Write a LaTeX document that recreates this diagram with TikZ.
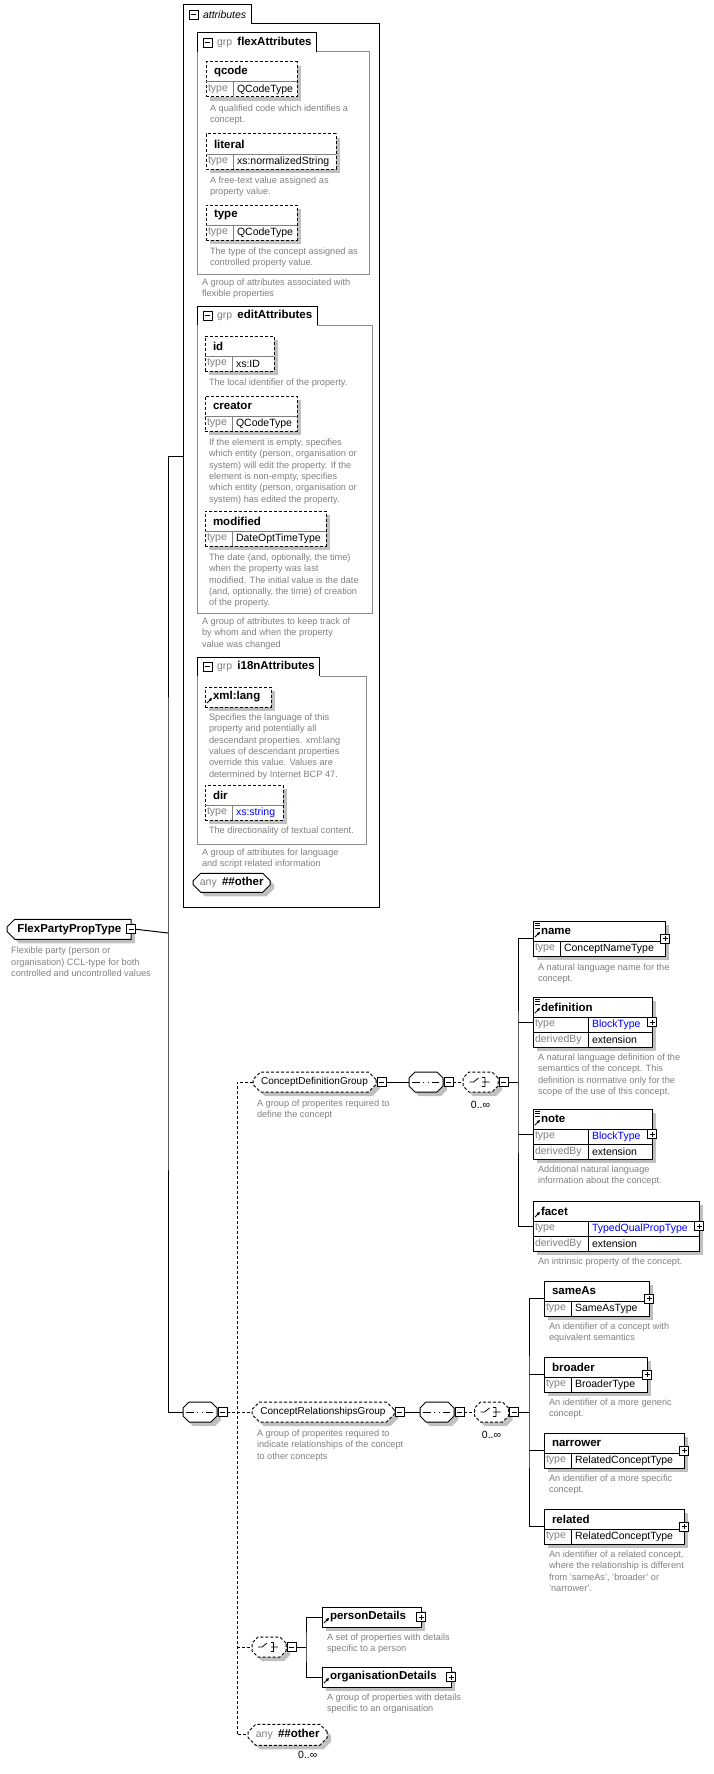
\documentclass[tikz,border=0pt]{standalone}
\usepackage{fontspec}
\setmainfont{Liberation Sans}
\usetikzlibrary{shapes.misc,arrows.meta,positioning,shadows}
\definecolor{desccol}{RGB}{128,128,128}
\definecolor{labcol}{RGB}{128,128,128}
\definecolor{shadecol}{RGB}{192,192,192}
\definecolor{grpcol}{RGB}{140,140,140}
\definecolor{linkblue}{RGB}{0,0,255}

\begin{document}
\begin{tikzpicture}[
  x=1pt, y=-1pt, line width=1pt,
  every node/.style={inner sep=0pt, outer sep=0pt, font=\fontsize{10.5}{12}\selectfont},
  opt/.style={dash pattern=on 3pt off 2pt},
  shadowed/.style={drop shadow={shadow xshift=4pt, shadow yshift=-4pt, opacity=1, fill=shadecol}},
  attframe/.style={anchor=north west, draw, opt, fill=white, shadowed},
  elframe/.style={anchor=north west, draw, fill=white, shadowed},
  ename/.style={anchor=north west, minimum height=20pt, inner xsep=8pt, font=\fontsize{11.5}{13}\selectfont\bfseries},
  tlab/.style={anchor=north west, minimum height=15pt, inner xsep=2pt, text width=#1, align=left, text=labcol},
  tlab/.default=23pt,
  tval/.style={anchor=north west, minimum height=15pt, inner xsep=4pt, text width=#1, align=left},
  attline/.style={draw=black!50},
  elline/.style={draw=black},
  desc/.style={align=left, text=desccol, font=\fontsize{9.2}{11.3}\selectfont},
  tabnode/.style={anchor=north west, minimum height=19pt, inner xsep=5pt},
  grpline/.style={draw=grpcol},
  mult/.style={font=\fontsize{10.5}{12}\selectfont},
  refmark/.style={line width=1pt, -{Triangle[length=3pt,width=3pt]}},
  mixmark/.style={line width=0.8pt},
  minusbox/.style={draw, fill=white, line width=0.8pt, minimum size=9pt,
    path picture={\draw[line width=0.8pt] ([xshift=2pt]path picture bounding box.west) -- ([xshift=-2pt]path picture bounding box.east);}},
  plusbox/.style={draw, fill=white, line width=0.8pt, minimum size=9pt,
    path picture={\draw[line width=0.8pt] ([xshift=2pt]path picture bounding box.west) -- ([xshift=-2pt]path picture bounding box.east)
      ([yshift=2pt]path picture bounding box.south) -- ([yshift=-2pt]path picture bounding box.north);}},
  chamf/.style={chamfered rectangle, chamfered rectangle xsep=4pt, draw, fill=white, shadowed},
  compo/.style={chamf, chamfered rectangle sep=3pt, inner xsep=14pt, inner ysep=7pt, minimum width=34pt, minimum height=20pt},
  seqnode/.style={compo, path picture={
    \draw[line width=0.8pt] ([xshift=3pt]path picture bounding box.west) -- ([xshift=-4pt]path picture bounding box.east);
    \foreach \k in {-4.5,0,4.5} \fill ([xshift=\k pt]path picture bounding box.center) +(-1.6pt,-1.6pt) rectangle +(1.6pt,1.6pt);}},
  chonode/.style={compo, opt, path picture={
    \coordinate (cc) at (path picture bounding box.center);
    \draw[line width=0.8pt, solid] ([xshift=-11pt]cc) -- ([xshift=-7pt]cc) -- ([shift={(-2pt,4pt)}]cc)
      ([shift={(4.5pt,4.5pt)}]cc) -- ([shift={(4.5pt,-4.5pt)}]cc)
      ([shift={(1pt,4.5pt)}]cc) -- ([shift={(4.5pt,4.5pt)}]cc)
      ([shift={(1pt,-4.5pt)}]cc) -- ([shift={(4.5pt,-4.5pt)}]cc)
      ([xshift=1pt]cc) -- ([xshift=9pt]cc);
    \foreach \k in {-4.5,0,4.5} \fill ([yshift=\k pt]cc) +(-1.6pt,-1.6pt) rectangle +(1.6pt,1.6pt);}},
  grpref/.style={chamf, opt, minimum height=20pt, font=\fontsize{10}{12}\selectfont},
  anynode/.style={chamf, anchor=north west},
]
\useasboundingbox (0,0) rectangle (714,1774);

% attributes box
\node[tabnode] (attrTab) at (183,5) {\hspace*{15pt}\textit{attributes}};
\node[minusbox, right=6pt of attrTab.west] (attrTabX) {};
\coordinate (attrSE) at (379,907);
\coordinate (attrIn) at (183,456);
\draw (attrTab.south west) |- (attrTab.north east) -- (attrTab.south east) -| (attrSE) -| (attrTab.south west);

% group flexAttributes
\node[tabnode] (flexTab) at (197,33) {\hspace*{15pt}{\color{labcol}grp}\enspace{\fontsize{11.5}{13}\selectfont\bfseries flexAttributes}};
\node[minusbox, right=6pt of flexTab.west] (flexTabX) {};
\coordinate (flexSE) at (369,274);
\coordinate (flexSW) at (197,274);
\draw (flexTab.south west) |- (flexTab.north east) -- (flexTab.south east);
\draw[grpline] (flexTab.south east) -| (flexSE) -- (flexSW) -- (flexTab.south west);
\node[desc, below right=5pt and 5pt of flexSW] (flexD) {A group of attributes associated with\\flexible properties};

\node[attframe, minimum width=91pt, minimum height=35pt] (qcode) at (206,62) {};
\node[ename] (qcodeN) at (qcode.north west) {qcode};
\node[tlab] (qcodeT) at (qcodeN.south west) {type};
\node[tval=56pt] (qcodeV) at (qcodeT.north east) {QCodeType};
\draw[attline] (qcodeT.north west) -- (qcode.east |- qcodeT.north) (qcodeT.north east) -- (qcodeT.south east);
\node[desc, below right=8pt and 4pt of qcode.south west] (qcodeD) {A qualified code which identifies a\\concept.};

\node[attframe, minimum width=130pt, minimum height=35pt] (literal) at (206,134) {};
\node[ename] (literalN) at (literal.north west) {literal};
\node[tlab] (literalT) at (literalN.south west) {type};
\node[tval=95pt] (literalV) at (literalT.north east) {xs:normalizedString};
\draw[attline] (literalT.north west) -- (literal.east |- literalT.north) (literalT.north east) -- (literalT.south east);
\node[desc, below right=8pt and 4pt of literal.south west] (literalD) {A free-text value assigned as\\property value.};

\node[attframe, minimum width=91pt, minimum height=35pt] (typeAtt) at (206,205) {};
\node[ename] (typeAttN) at (typeAtt.north west) {type};
\node[tlab] (typeAttT) at (typeAttN.south west) {type};
\node[tval=56pt] (typeAttV) at (typeAttT.north east) {QCodeType};
\draw[attline] (typeAttT.north west) -- (typeAtt.east |- typeAttT.north) (typeAttT.north east) -- (typeAttT.south east);
\node[desc, below right=8pt and 4pt of typeAtt.south west] (typeAttD) {The type of the concept assigned as\\controlled property value.};

% group editAttributes
\node[tabnode] (editTab) at (197,306) {\hspace*{15pt}{\color{labcol}grp}\enspace{\fontsize{11.5}{13}\selectfont\bfseries editAttributes}};
\node[minusbox, right=6pt of editTab.west] (editTabX) {};
\coordinate (editSE) at (372,613);
\coordinate (editSW) at (197,613);
\draw (editTab.south west) |- (editTab.north east) -- (editTab.south east);
\draw[grpline] (editTab.south east) -| (editSE) -- (editSW) -- (editTab.south west);
\node[desc, below right=5pt and 5pt of editSW] (editD) {A group of attributes to keep track of\\by whom and when the property\\value was changed};

\node[attframe, minimum width=69pt, minimum height=35pt] (idAtt) at (205,336) {};
\node[ename] (idAttN) at (idAtt.north west) {id};
\node[tlab] (idAttT) at (idAttN.south west) {type};
\node[tval=34pt] (idAttV) at (idAttT.north east) {xs:ID};
\draw[attline] (idAttT.north west) -- (idAtt.east |- idAttT.north) (idAttT.north east) -- (idAttT.south east);
\node[desc, below right=8pt and 4pt of idAtt.south west] (idAttD) {The local identifier of the property.};

\node[attframe, minimum width=92pt, minimum height=35pt] (creator) at (205,396) {};
\node[ename] (creatorN) at (creator.north west) {creator};
\node[tlab] (creatorT) at (creatorN.south west) {type};
\node[tval=57pt] (creatorV) at (creatorT.north east) {QCodeType};
\draw[attline] (creatorT.north west) -- (creator.east |- creatorT.north) (creatorT.north east) -- (creatorT.south east);
\node[desc, below right=8pt and 4pt of creator.south west] (creatorD) {If the element is empty, specifies\\which entity (person, organisation or\\system) will edit the property. If the\\element is non-empty, specifies\\which entity (person, organisation or\\system) has edited the property.};

\node[attframe, minimum width=121pt, minimum height=35pt] (modified) at (205,511) {};
\node[ename] (modifiedN) at (modified.north west) {modified};
\node[tlab] (modifiedT) at (modifiedN.south west) {type};
\node[tval=86pt] (modifiedV) at (modifiedT.north east) {DateOptTimeType};
\draw[attline] (modifiedT.north west) -- (modified.east |- modifiedT.north) (modifiedT.north east) -- (modifiedT.south east);
\node[desc, below right=8pt and 4pt of modified.south west] (modifiedD) {The date (and, optionally, the time)\\when the property was last\\modified. The initial value is the date\\(and, optionally, the time) of creation\\of the property.};

% group i18nAttributes
\node[tabnode] (i18nTab) at (197,657) {\hspace*{15pt}{\color{labcol}grp}\enspace{\fontsize{11.5}{13}\selectfont\bfseries i18nAttributes}};
\node[minusbox, right=6pt of i18nTab.west] (i18nTabX) {};
\coordinate (i18nSE) at (366,844);
\coordinate (i18nSW) at (197,844);
\draw (i18nTab.south west) |- (i18nTab.north east) -- (i18nTab.south east);
\draw[grpline] (i18nTab.south east) -| (i18nSE) -- (i18nSW) -- (i18nTab.south west);
\node[desc, below right=5pt and 5pt of i18nSW] (i18nD) {A group of attributes for language\\and script related information};

\node[attframe, minimum width=66pt, minimum height=20pt] (xmllang) at (205,687) {};
\node[ename] (xmllangN) at (xmllang.north west) {xml:lang};
\draw[refmark] ([shift={(2,16)}]xmllang.north west) -- +(5,-5);
\node[desc, below right=7pt and 4pt of xmllang.south west] (xmllangD) {Specifies the language of this\\property and potentially all\\descendant properties. xml:lang\\values of descendant properties\\override this value. Values are\\determined by Internet BCP 47.};

\node[attframe, minimum width=78pt, minimum height=35pt] (dirAtt) at (205,785) {};
\node[ename] (dirAttN) at (dirAtt.north west) {dir};
\node[tlab] (dirAttT) at (dirAttN.south west) {type};
\node[tval=43pt, text=linkblue] (dirAttV) at (dirAttT.north east) {xs:string};
\draw[attline] (dirAttT.north west) -- (dirAtt.east |- dirAttT.north) (dirAttT.north east) -- (dirAttT.south east);
\node[desc, below right=7pt and 4pt of dirAtt.south west] (dirAttD) {The directionality of textual content.};

\node[anynode, minimum width=77pt, minimum height=19pt] (anyAttr) at (197,877) {{\color{labcol}any}\enspace{\fontsize{11.5}{13}\selectfont\bfseries\#\#other}};

% the complex type
\node[chamf, chamfered rectangle corners={north west,south west}, anchor=north west, minimum width=124pt, minimum height=20pt, font=\fontsize{11.5}{13}\selectfont\bfseries] (flexType) at (11,923) {FlexPartyPropType};
\node[minusbox] (flexTypeX) at (flexType.east) {};
\coordinate (flexTypeSW) at (flexType.west |- flexType.south);
\node[desc, below right=8pt and 4pt of flexTypeSW] (flexTypeD) {Flexible party (person or\\organisation) CCL-type for both\\controlled and uncontrolled values};

\coordinate (trunk) at (168,933);
\draw (flexTypeX.east) -- (trunk);
\node[seqnode] (seqMain) at (200,1412) {};
\node[minusbox, right=1pt of seqMain] (seqMainX) {};
\draw (attrIn) -| (trunk) |- (seqMain.west);

% main sequence children
\node[grpref, minimum width=123pt, anchor=west] (cdg) at (253,1082) {ConceptDefinitionGroup};
\node[grpref, minimum width=142pt, anchor=west] (crg) at (252,1412) {ConceptRelationshipsGroup};
\node[chonode, minimum width=32pt] (choPO) at (269,1647) {};
\node[chamf, opt, anchor=north west, minimum width=79pt, minimum height=21pt] (anyEl) at (252,1728) {{\color{labcol}any}\enspace{\fontsize{11.5}{13}\selectfont\bfseries\#\#other}};
\node[mult, below=6pt of anyEl, xshift=20pt] (anyElM) {0..∞};

\coordinate (mainbus) at (237,1412);
\draw[opt] (seqMainX.east) -- (crg.west);
\draw[opt] (cdg.west) -| (mainbus) |- (anyEl.west);
\draw[opt] (mainbus |- choPO.west) -- (choPO.west);

% ConceptDefinitionGroup
\coordinate (cdgSW) at (cdg.west |- cdg.south);
\node[desc, below right=8pt and 4pt of cdgSW] (cdgD) {A group of properites required to\\define the concept};
\node[minusbox, right=1pt of cdg] (cdgX) {};
\node[seqnode] (seqDef) at (426,1082) {};
\node[minusbox, right=1pt of seqDef] (seqDefX) {};
\node[chonode, minimum width=35pt] (choDef) at (480.5,1082) {};
\node[minusbox, right=1pt of choDef] (choDefX) {};
\node[mult, below=9pt of choDef] (choDefM) {0..∞};
\draw (cdgX.east) -- (seqDef.west);
\draw[opt] (seqDefX.east) -- (choDef.west);
\coordinate (defbus) at (518,1082);
\draw (choDefX.east) -- (defbus);

\node[elframe, minimum width=132pt, minimum height=35pt] (nameEl) at (533,921) {};
\node[ename] (nameElN) at (nameEl.north west) {name};
\node[tlab] (nameElT) at (nameElN.south west) {type};
\node[tval=97pt] (nameElV) at (nameElT.north east) {ConceptNameType};
\draw[elline] (nameElT.north west) -- (nameEl.east |- nameElT.north) (nameElT.north east) -- (nameElT.south east);
\draw[mixmark] ([shift={(2,2)}]nameEl.north west) -- +(5,0) +(0,2.5) -- +(5,2.5) +(0,5) -- +(5,5);
\draw[refmark] ([shift={(2,16)}]nameEl.north west) -- +(5,-5);
\node[plusbox] (nameElX) at (nameEl.east) {};
\node[desc, below right=8pt and 5pt of nameEl.south west] (nameElD) {A natural language name for the\\concept.};

\node[elframe, minimum width=119pt, minimum height=50pt] (definition) at (533,997) {};
\node[ename] (definitionN) at (definition.north west) {definition};
\node[tlab=51pt] (definitionT) at (definitionN.south west) {type};
\node[tval=56pt, text=linkblue] (definitionV) at (definitionT.north east) {BlockType};
\node[tlab=51pt] (definitionB) at (definitionT.south west) {derivedBy};
\node[tval=56pt] (definitionE) at (definitionB.north east) {extension};
\draw[elline] (definitionT.north west) -- (definition.east |- definitionT.north)
  (definitionB.north west) -- (definition.east |- definitionB.north)
  (definitionT.north east) -- (definitionB.south east);
\draw[mixmark] ([shift={(2,2)}]definition.north west) -- +(5,0) +(0,2.5) -- +(5,2.5) +(0,5) -- +(5,5);
\draw[refmark] ([shift={(2,16)}]definition.north west) -- +(5,-5);
\node[plusbox] (definitionX) at (definition.east) {};
\node[desc, below right=7pt and 5pt of definition.south west] (definitionD) {A natural language definition of the\\semantics of the concept. This\\definition is normative only for the\\scope of the use of this concept.};

\node[elframe, minimum width=119pt, minimum height=50pt] (note) at (533,1109) {};
\node[ename] (noteN) at (note.north west) {note};
\node[tlab=51pt] (noteT) at (noteN.south west) {type};
\node[tval=56pt, text=linkblue] (noteV) at (noteT.north east) {BlockType};
\node[tlab=51pt] (noteB) at (noteT.south west) {derivedBy};
\node[tval=56pt] (noteE) at (noteB.north east) {extension};
\draw[elline] (noteT.north west) -- (note.east |- noteT.north)
  (noteB.north west) -- (note.east |- noteB.north)
  (noteT.north east) -- (noteB.south east);
\draw[mixmark] ([shift={(2,2)}]note.north west) -- +(5,0) +(0,2.5) -- +(5,2.5) +(0,5) -- +(5,5);
\draw[refmark] ([shift={(2,16)}]note.north west) -- +(5,-5);
\node[plusbox] (noteX) at (note.east) {};
\node[desc, below right=7pt and 5pt of note.south west] (noteD) {Additional natural language\\information about the concept.};

\node[elframe, minimum width=166pt, minimum height=50pt] (facet) at (533,1201) {};
\node[ename] (facetN) at (facet.north west) {facet};
\node[tlab=51pt] (facetT) at (facetN.south west) {type};
\node[tval=103pt, text=linkblue] (facetV) at (facetT.north east) {TypedQualPropType};
\node[tlab=51pt] (facetB) at (facetT.south west) {derivedBy};
\node[tval=103pt] (facetE) at (facetB.north east) {extension};
\draw[elline] (facetT.north west) -- (facet.east |- facetT.north)
  (facetB.north west) -- (facet.east |- facetB.north)
  (facetT.north east) -- (facetB.south east);
\draw[refmark] ([shift={(2,16)}]facet.north west) -- +(5,-5);
\node[plusbox] (facetX) at (facet.east) {};
\node[desc, below right=7pt and 5pt of facet.south west] (facetD) {An intrinsic property of the concept.};

\draw (nameEl.west) -| (defbus) |- (facet.west);
\draw (defbus |- definition.west) -- (definition.west);
\draw (defbus |- note.west) -- (note.west);

% ConceptRelationshipsGroup
\coordinate (crgSW) at (crg.west |- crg.south);
\node[desc, below right=8pt and 5pt of crgSW] (crgD) {A group of properites required to\\indicate relationships of the concept\\to other concepts};
\node[minusbox, right=1pt of crg] (crgX) {};
\node[seqnode] (seqRel) at (437,1412) {};
\node[minusbox, right=1pt of seqRel] (seqRelX) {};
\node[chonode, minimum width=33pt] (choRel) at (491.5,1412) {};
\node[minusbox, right=1pt of choRel] (choRelX) {};
\node[mult, below=9pt of choRel] (choRelM) {0..∞};
\draw (crgX.east) -- (seqRel.west);
\draw[opt] (seqRelX.east) -- (choRel.west);
\coordinate (relbus) at (529,1412);
\draw (choRelX.east) -- (relbus);

\node[elframe, minimum width=105pt, minimum height=35pt] (sameAs) at (544,1281) {};
\node[ename] (sameAsN) at (sameAs.north west) {sameAs};
\node[tlab] (sameAsT) at (sameAsN.south west) {type};
\node[tval=70pt] (sameAsV) at (sameAsT.north east) {SameAsType};
\draw[elline] (sameAsT.north west) -- (sameAs.east |- sameAsT.north) (sameAsT.north east) -- (sameAsT.south east);
\node[plusbox] (sameAsX) at (sameAs.east) {};
\node[desc, below right=7pt and 5pt of sameAs.south west] (sameAsD) {An identifier of a concept with\\equivalent semantics};

\node[elframe, minimum width=103pt, minimum height=35pt] (broader) at (544,1357) {};
\node[ename] (broaderN) at (broader.north west) {broader};
\node[tlab] (broaderT) at (broaderN.south west) {type};
\node[tval=68pt] (broaderV) at (broaderT.north east) {BroaderType};
\draw[elline] (broaderT.north west) -- (broader.east |- broaderT.north) (broaderT.north east) -- (broaderT.south east);
\node[plusbox] (broaderX) at (broader.east) {};
\node[desc, below right=7pt and 5pt of broader.south west] (broaderD) {An identifier of a more generic\\concept.};

\node[elframe, minimum width=140pt, minimum height=35pt] (narrower) at (544,1433) {};
\node[ename] (narrowerN) at (narrower.north west) {narrower};
\node[tlab] (narrowerT) at (narrowerN.south west) {type};
\node[tval=105pt] (narrowerV) at (narrowerT.north east) {RelatedConceptType};
\draw[elline] (narrowerT.north west) -- (narrower.east |- narrowerT.north) (narrowerT.north east) -- (narrowerT.south east);
\node[plusbox] (narrowerX) at (narrower.east) {};
\node[desc, below right=7pt and 5pt of narrower.south west] (narrowerD) {An identifier of a more specific\\concept.};

\node[elframe, minimum width=140pt, minimum height=35pt] (related) at (544,1509) {};
\node[ename] (relatedN) at (related.north west) {related};
\node[tlab] (relatedT) at (relatedN.south west) {type};
\node[tval=105pt] (relatedV) at (relatedT.north east) {RelatedConceptType};
\draw[elline] (relatedT.north west) -- (related.east |- relatedT.north) (relatedT.north east) -- (relatedT.south east);
\node[plusbox] (relatedX) at (related.east) {};
\node[desc, below right=7pt and 5pt of related.south west] (relatedD) {An identifier of a related concept,\\where the relationship is different\\from 'sameAs', 'broader' or\\'narrower'.};

\draw (sameAs.west) -| (relbus) |- (related.west);
\draw (relbus |- broader.west) -- (broader.west);
\draw (relbus |- narrower.west) -- (narrower.west);

% person / organisation choice
\node[minusbox, right=1pt of choPO] (choPOX) {};
\coordinate (pobus) at (306,1647);
\draw (choPOX.east) -- (pobus);

\node[elframe, minimum width=99pt, minimum height=20pt] (personD) at (322,1607) {};
\node[ename] (personDN) at (personD.north west) {personDetails};
\draw[refmark] ([shift={(2,16)}]personD.north west) -- +(5,-5);
\node[plusbox] (personDX) at (personD.east) {};
\node[desc, below right=7pt and 5pt of personD.south west] (personDD) {A set of properties with details\\specific to a person};

\node[elframe, minimum width=129pt, minimum height=20pt] (orgD) at (322,1667) {};
\node[ename] (orgDN) at (orgD.north west) {organisationDetails};
\draw[refmark] ([shift={(2,16)}]orgD.north west) -- +(5,-5);
\node[plusbox] (orgDX) at (orgD.east) {};
\node[desc, below right=7pt and 5pt of orgD.south west] (orgDD) {A group of properties with details\\specific to an organisation};

\draw (personD.west) -| (pobus) |- (orgD.west);
\end{tikzpicture}
\end{document}
